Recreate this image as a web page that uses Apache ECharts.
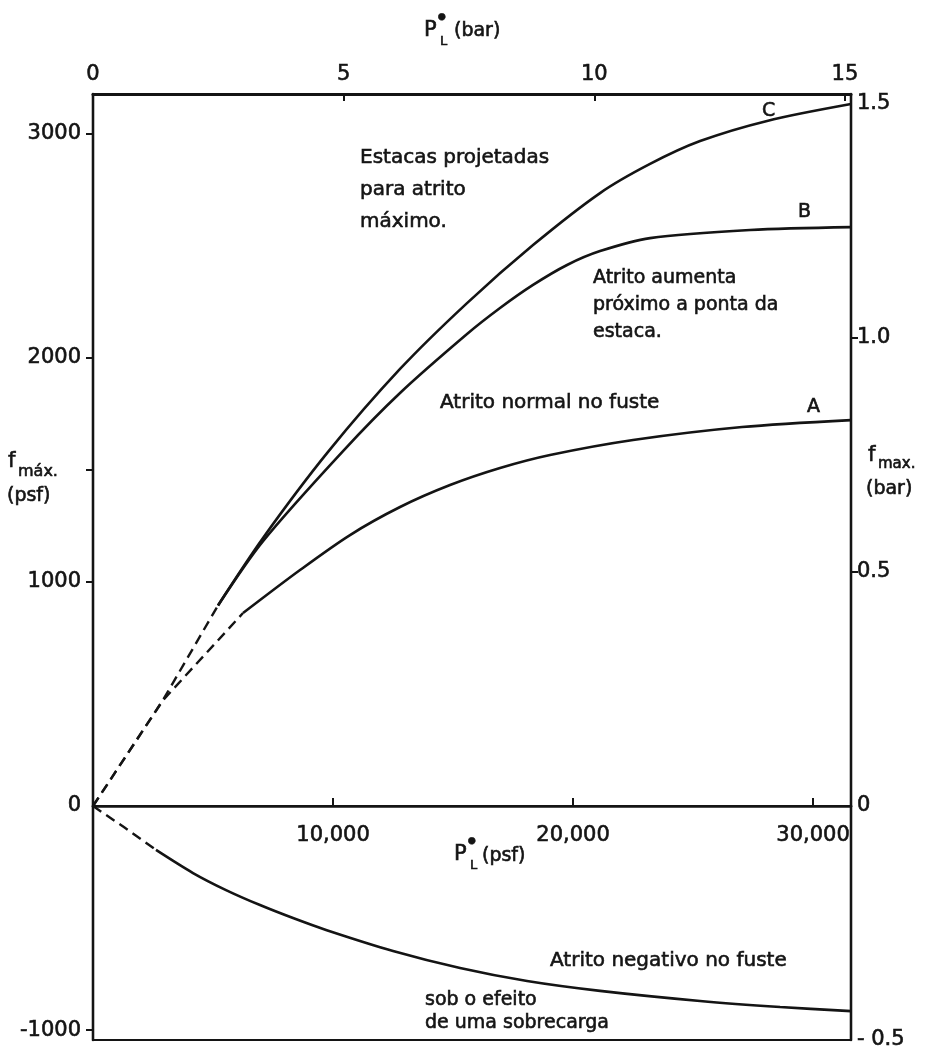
<!DOCTYPE html>
<html><head><meta charset="utf-8">
<script src="https://cdn.jsdelivr.net/npm/echarts@6/dist/echarts.min.js"></script>
<style>html,body{margin:0;padding:0;background:#fff}#c{width:925px;height:1050px}</style>
</head><body><div id="c"></div>
<script>
// ---- data (psf on both axes; bar axes are the same scale converted) ----
const PSF_PER_BAR = 2088.5;
const X_MAX_PSF = 31580;
const Y_MIN_PSF = -1044;
const Y_MAX_PSF = 3177;

const leftLabelValues = [0, 1000, 2000, 3000];
const leftTickValues = [1000, 1500, 2000, 3000];
const lowerLeftValues = [-1000];
const bottomLabelValues = [10000, 20000, 30000];
const rightTickValues = [0.5, 1.0];
const topBarInterval = 5;
const rightBarInterval = 0.5;

// dashed (extrapolated) beginnings
const curveBC_dash = [[0,0],[2900,470],[5208,895]];
const curveA_dash  = [[0,0],[2900,470],[6250,861]];
const curveNeg_dash = [[0,0],[1300,-95],[2625,-196]];

// solid curves
const curveC = [[5208,895],[7083,1196],[9792,1580],[12792,1950],[15583,2244],[18333,2503],[21125,2735],[23208,2865],[25292,2967],[28083,3057],[31580,3132]];
const curveB = [[5208,895],[7083,1182],[10417,1584],[12792,1843],[15583,2106],[16958,2222],[18333,2325],[19750,2414],[21125,2476],[23208,2534],[27375,2570],[31580,2583]];
const curveA = [[6250,861],[8625,1053],[10708,1209],[12792,1334],[14875,1432],[16958,1508],[19042,1566],[22500,1633],[27042,1691],[31580,1722]];
const curveNeg = [[2625,-196],[4167,-299],[5542,-375],[6958,-442],[8333,-500],[9708,-553],[12500,-647],[15292,-723],[18083,-781],[21125,-825],[25292,-870],[28625,-897],[31580,-915]];

// ---- chart ----
const INK = '#141414';
const FONT = 'DejaVu Sans';
const chart = echarts.init(document.getElementById('c'), null, {renderer: 'canvas'});

function solid(data, xi, yi) {
  return {type: 'line', data, showSymbol: false, smooth: 0.3, xAxisIndex: xi, yAxisIndex: yi,
    lineStyle: {color: INK, width: 2.6}, silent: true, animation: false, clip: false};
}
function dashed(data, xi, yi) {
  return {type: 'line', data, showSymbol: false, smooth: false, xAxisIndex: xi, yAxisIndex: yi,
    lineStyle: {color: INK, width: 2.4, type: [10, 6]}, silent: true, animation: false, clip: false};
}
function txt(text, x, y, size, opts) {
  return {type: 'text', x, y, silent: true, z: 100,
    style: Object.assign({text, fill: INK, stroke: INK, lineWidth: 0.6, font: `${size}px "${FONT}"`, textAlign: 'left', textVerticalAlign: 'middle'}, opts || {})};
}

const labelStyle = {color: INK, fontFamily: FONT, fontSize: 21, textBorderColor: INK, textBorderWidth: 0.6};
const lineStyle = w => ({show: true, onZero: false, lineStyle: {color: INK, width: w}});
const rightFmt = v => {
  const r = Math.round(v * 10) / 10;
  if (r === 0) return '0';
  if (r < 0) return '- ' + Math.abs(r).toFixed(1);
  return r.toFixed(1);
};

chart.setOption({
  animation: false,
  backgroundColor: '#fff',
  grid: [
    {left: 93, right: 74, top: 94, bottom: 244, show: true, borderColor: INK, borderWidth: 2.2, outerBoundsMode: 'none', containLabel: false},
    {left: 93, right: 74, top: 806, bottom: 10, show: true, borderColor: INK, borderWidth: 2.2, outerBoundsMode: 'none', containLabel: false}
  ],
  xAxis: [
    {gridIndex: 0, type: 'value', min: 0, max: X_MAX_PSF, position: 'bottom',
     axisLine: lineStyle(2.6),
     axisTick: {show: true, inside: true, length: 8, customValues: bottomLabelValues, lineStyle: {color: INK, width: 2}},
     axisLabel: Object.assign({customValues: bottomLabelValues, margin: 19, formatter: v => Number(v).toLocaleString('en-US')}, labelStyle),
     splitLine: {show: false}},
    {gridIndex: 0, type: 'value', min: 0, max: X_MAX_PSF / PSF_PER_BAR, interval: topBarInterval, position: 'top',
     axisLine: lineStyle(3),
     axisTick: {show: true, inside: true, length: 7, lineStyle: {color: INK, width: 2}},
     axisLabel: Object.assign({margin: 9, showMaxLabel: false}, labelStyle),
     splitLine: {show: false}},
    {gridIndex: 1, type: 'value', min: 0, max: X_MAX_PSF, show: false, splitLine: {show: false}}
  ],
  yAxis: [
    {gridIndex: 0, type: 'value', min: 0, max: Y_MAX_PSF, position: 'left',
     axisLine: lineStyle(2.4),
     axisTick: {show: true, length: 7, customValues: leftTickValues, lineStyle: {color: INK, width: 2}},
     axisLabel: Object.assign({customValues: leftLabelValues, margin: 12, formatter: v => String(v)}, labelStyle),
     splitLine: {show: false}},
    {gridIndex: 0, type: 'value', min: 0, max: Y_MAX_PSF / PSF_PER_BAR, interval: rightBarInterval, position: 'right',
     axisLine: lineStyle(2.4),
     axisTick: {show: true, length: 7, customValues: rightTickValues, lineStyle: {color: INK, width: 2}},
     axisLabel: Object.assign({margin: 6, showMaxLabel: false, formatter: rightFmt}, labelStyle),
     splitLine: {show: false}},
    {gridIndex: 1, type: 'value', min: Y_MIN_PSF, max: 0, position: 'left',
     axisLine: lineStyle(2.4),
     axisTick: {show: true, length: 7, customValues: lowerLeftValues, lineStyle: {color: INK, width: 2}},
     axisLabel: Object.assign({customValues: lowerLeftValues, margin: 12, formatter: v => String(v)}, labelStyle),
     splitLine: {show: false}},
    {gridIndex: 1, type: 'value', min: Y_MIN_PSF / PSF_PER_BAR, max: 0, interval: rightBarInterval, position: 'right',
     axisLine: lineStyle(2.4),
     axisTick: {show: false},
     axisLabel: Object.assign({margin: 6, showMaxLabel: false, formatter: rightFmt}, labelStyle),
     splitLine: {show: false}}
  ],
  series: [
    dashed(curveBC_dash, 0, 0), dashed(curveA_dash, 0, 0), dashed(curveNeg_dash, 2, 2),
    solid(curveC, 0, 0), solid(curveB, 0, 0), solid(curveA, 0, 0), solid(curveNeg, 2, 2)
  ],
  graphic: [
    // axis titles
    txt('P', 424, 31, 21), txt('\u25CF', 438, 17, 9), txt('L', 440, 42, 13), txt('(bar)', 454, 31, 19),
    txt('P', 454, 855, 21), txt('\u25CF', 468, 841, 9), txt('L', 470, 866, 13), txt('(psf)', 482, 856, 19),
    txt('f', 8, 462, 21), txt('máx.', 18, 472, 16), txt('(psf)', 7, 496, 19),
    txt('f', 868, 456, 21), txt('max.', 878, 464, 15), txt('(bar)', 866, 489, 19),
    // curve letters
    txt('C', 762, 111, 19), txt('B', 798, 212, 19), txt('A', 807, 407, 19),
    // annotations
    txt('Estacas projetadas\npara atrito\nmáximo.', 360, 190, 20, {lineHeight: 32}),
    txt('Atrito aumenta\npróximo a ponta da\nestaca.', 593, 305, 19, {lineHeight: 27}),
    txt('Atrito normal no fuste', 440, 403, 20),
    txt('Atrito negativo no fuste', 550, 961, 20),
    txt('sob o efeito\nde uma sobrecarga', 425, 1012, 19, {lineHeight: 23})
  ]
});
</script></body></html>
